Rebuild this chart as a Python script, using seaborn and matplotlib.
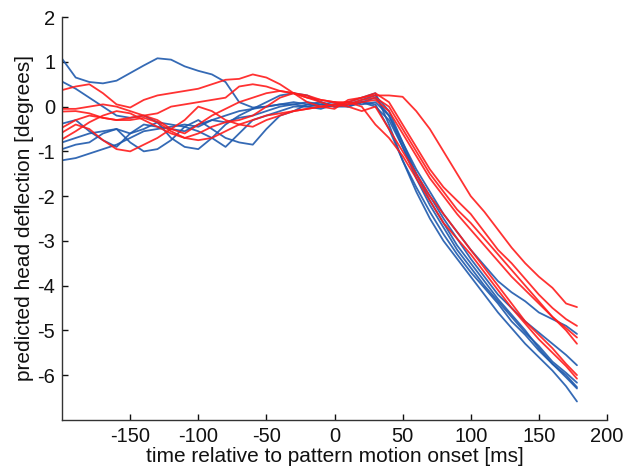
import matplotlib
matplotlib.use("Agg")
import matplotlib.pyplot as plt
import seaborn as sns
import pandas as pd

# time axis [ms]
times = list(range(-200, 180, 10)) + [178]

# blue traces: before onset (-200..0) and after onset (10..178)
blue_pre = [
    [1.07, 0.65, 0.55, 0.52, 0.58, 0.75, 0.92, 1.08, 1.05, 0.9, 0.8, 0.72, 0.55, 0.1, -0.02, 0.0, 0.05, 0.1, 0.05, 0.0, 0.05],
    [0.56, 0.4, 0.2, 0.0, -0.2, -0.25, -0.2, -0.35, -0.7, -0.9, -0.95, -0.7, -0.4, -0.2, -0.05, 0.1, 0.25, 0.3, 0.25, 0.1, 0.0],
    [-0.38, -0.3, -0.55, -0.75, -0.9, -0.6, -0.4, -0.45, -0.5, -0.55, -0.4, -0.3, -0.35, -0.25, -0.2, -0.1, 0.0, 0.05, 0.1, 0.05, 0.1],
    [-0.8, -0.7, -0.6, -0.55, -0.5, -0.6, -0.5, -0.35, -0.4, -0.45, -0.55, -0.7, -0.9, -0.6, -0.3, -0.2, -0.1, 0.0, 0.0, 0.05, 0.0],
    [-0.95, -0.85, -0.8, -0.6, -0.5, -0.8, -1.0, -0.95, -0.75, -0.45, -0.3, -0.5, -0.7, -0.8, -0.85, -0.5, -0.2, -0.1, 0.05, 0.1, 0.0],
    [-1.2, -1.15, -1.05, -0.95, -0.85, -0.7, -0.55, -0.5, -0.45, -0.4, -0.45, -0.3, -0.2, -0.1, -0.05, 0.0, 0.05, 0.05, 0.0, -0.05, 0.05],
]
blue_post = [
    [0.1, 0.2, 0.3, -0.4, -1.2, -1.9, -2.5, -3.0, -3.4, -3.8, -4.2, -4.6, -4.95, -5.3, -5.6, -5.9, -6.25, -6.59],
    [0.05, 0.1, 0.05, -0.5, -1.2, -1.8, -2.35, -2.85, -3.3, -3.7, -4.05, -4.4, -4.8, -5.1, -5.45, -5.75, -6.0, -6.27],
    [0.0, 0.1, 0.2, -0.2, -0.9, -1.6, -2.2, -2.7, -3.2, -3.6, -4.0, -4.35, -4.7, -5.05, -5.35, -5.7, -5.95, -6.17],
    [0.05, 0.15, 0.25, -0.1, -0.8, -1.5, -2.1, -2.6, -3.1, -3.5, -3.9, -4.3, -4.65, -5.0, -5.4, -5.75, -6.05, -6.3],
    [0.0, 0.1, 0.0, -0.3, -0.9, -1.5, -2.0, -2.5, -2.95, -3.4, -3.8, -4.2, -4.5, -4.8, -5.05, -5.3, -5.55, -5.78],
    [0.1, 0.05, 0.1, -0.2, -0.8, -1.4, -1.9, -2.4, -2.8, -3.2, -3.55, -3.9, -4.15, -4.35, -4.6, -4.75, -4.9, -5.08],
]

# red traces
red_pre = [
    [0.37, 0.45, 0.5, 0.3, 0.05, -0.02, 0.15, 0.25, 0.3, 0.35, 0.4, 0.5, 0.6, 0.62, 0.72, 0.65, 0.5, 0.3, 0.1, 0.0, -0.05],
    [-0.11, -0.1, -0.15, -0.25, -0.3, -0.25, -0.2, -0.15, 0.0, 0.05, 0.1, 0.15, 0.2, 0.45, 0.5, 0.45, 0.35, 0.3, 0.2, 0.15, 0.1],
    [-0.47, -0.3, -0.2, -0.25, -0.3, -0.3, -0.25, -0.35, -0.55, -0.7, -0.6, -0.45, -0.35, -0.3, -0.2, 0.0, 0.2, 0.3, 0.25, 0.15, 0.1],
    [-0.58, -0.4, -0.5, -0.75, -0.95, -1.0, -0.85, -0.7, -0.5, -0.3, 0.0, -0.1, -0.3, -0.4, -0.45, -0.3, -0.2, -0.1, -0.05, 0.0, 0.05],
    [-0.73, -0.55, -0.35, -0.2, -0.1, -0.15, -0.3, -0.45, -0.6, -0.7, -0.75, -0.7, -0.55, -0.4, -0.3, -0.2, -0.15, -0.1, -0.05, 0.0, 0.05],
    [-0.05, -0.05, 0.0, 0.05, 0.0, -0.1, -0.2, -0.3, -0.5, -0.6, -0.4, -0.2, -0.05, 0.1, 0.2, 0.3, 0.35, 0.3, 0.2, 0.1, 0.0],
]
red_post = [
    [0.15, 0.2, 0.25, 0.25, 0.22, -0.1, -0.5, -1.0, -1.5, -2.0, -2.35, -2.75, -3.15, -3.5, -3.8, -4.05, -4.4, -4.48],
    [0.1, 0.2, 0.3, 0.1, -0.4, -0.9, -1.4, -1.8, -2.1, -2.4, -2.8, -3.2, -3.5, -3.85, -4.2, -4.5, -4.75, -4.9],
    [0.05, 0.1, 0.15, -0.1, -0.6, -1.1, -1.6, -2.0, -2.4, -2.75, -3.1, -3.45, -3.8, -4.1, -4.4, -4.7, -4.95, -5.16],
    [0.0, -0.1, 0.0, -0.5, -1.0, -1.5, -2.0, -2.4, -2.8, -3.2, -3.6, -4.0, -4.4, -4.8, -5.1, -5.4, -5.75, -6.0],
    [0.1, 0.0, -0.4, -0.7, -1.1, -1.6, -2.1, -2.6, -2.95, -3.3, -3.7, -4.1, -4.5, -4.85, -5.2, -5.5, -5.8, -6.08],
    [0.05, 0.15, 0.2, 0.0, -0.5, -1.0, -1.5, -1.9, -2.3, -2.6, -2.95, -3.3, -3.65, -4.0, -4.35, -4.7, -5.0, -5.3],
]

rows = []
palette = {}
for i, (pre, post) in enumerate(zip(blue_pre, blue_post)):
    name = f"b{i}"
    palette[name] = "#1f5aad"
    for t, v in zip(times, pre + post):
        rows.append({"t": t, "v": v, "trace": name})
for i, (pre, post) in enumerate(zip(red_pre, red_post)):
    name = f"r{i}"
    palette[name] = "#ff1c1c"
    for t, v in zip(times, pre + post):
        rows.append({"t": t, "v": v, "trace": name})
df = pd.DataFrame(rows)

sns.set_style("ticks")
plt.rcParams["font.family"] = ["Liberation Sans", "DejaVu Sans"]
plt.rcParams["axes.unicode_minus"] = False

fig = plt.figure(figsize=(6.27, 4.76), dpi=100)
ax = fig.add_axes([0.099, 0.118, 0.869, 0.846])
sns.lineplot(data=df, x="t", y="v", hue="trace", palette=palette,
             linewidth=1.3, alpha=0.9, legend=False, ax=ax)

ax.set_xlim(-200, 200)
ax.set_ylim(-7, 2)
ax.set_xticks([-150, -100, -50, 0, 50, 100, 150, 200])
ax.set_yticks([-6, -5, -4, -3, -2, -1, 0, 1, 2])
ax.tick_params(direction="in", length=4, width=1, labelsize=14.5, colors="#111111", pad=5)
for s in ["top", "right"]:
    ax.spines[s].set_visible(False)
for s in ["left", "bottom"]:
    ax.spines[s].set_color("#333333")
    ax.spines[s].set_linewidth(1)
ax.set_xlabel("time relative to pattern motion onset [ms]", fontsize=15, labelpad=1, color="#111111")
ax.set_ylabel("predicted head deflection [degrees]", fontsize=15, labelpad=2, color="#111111")

fig.savefig("out.png", dpi=100)
